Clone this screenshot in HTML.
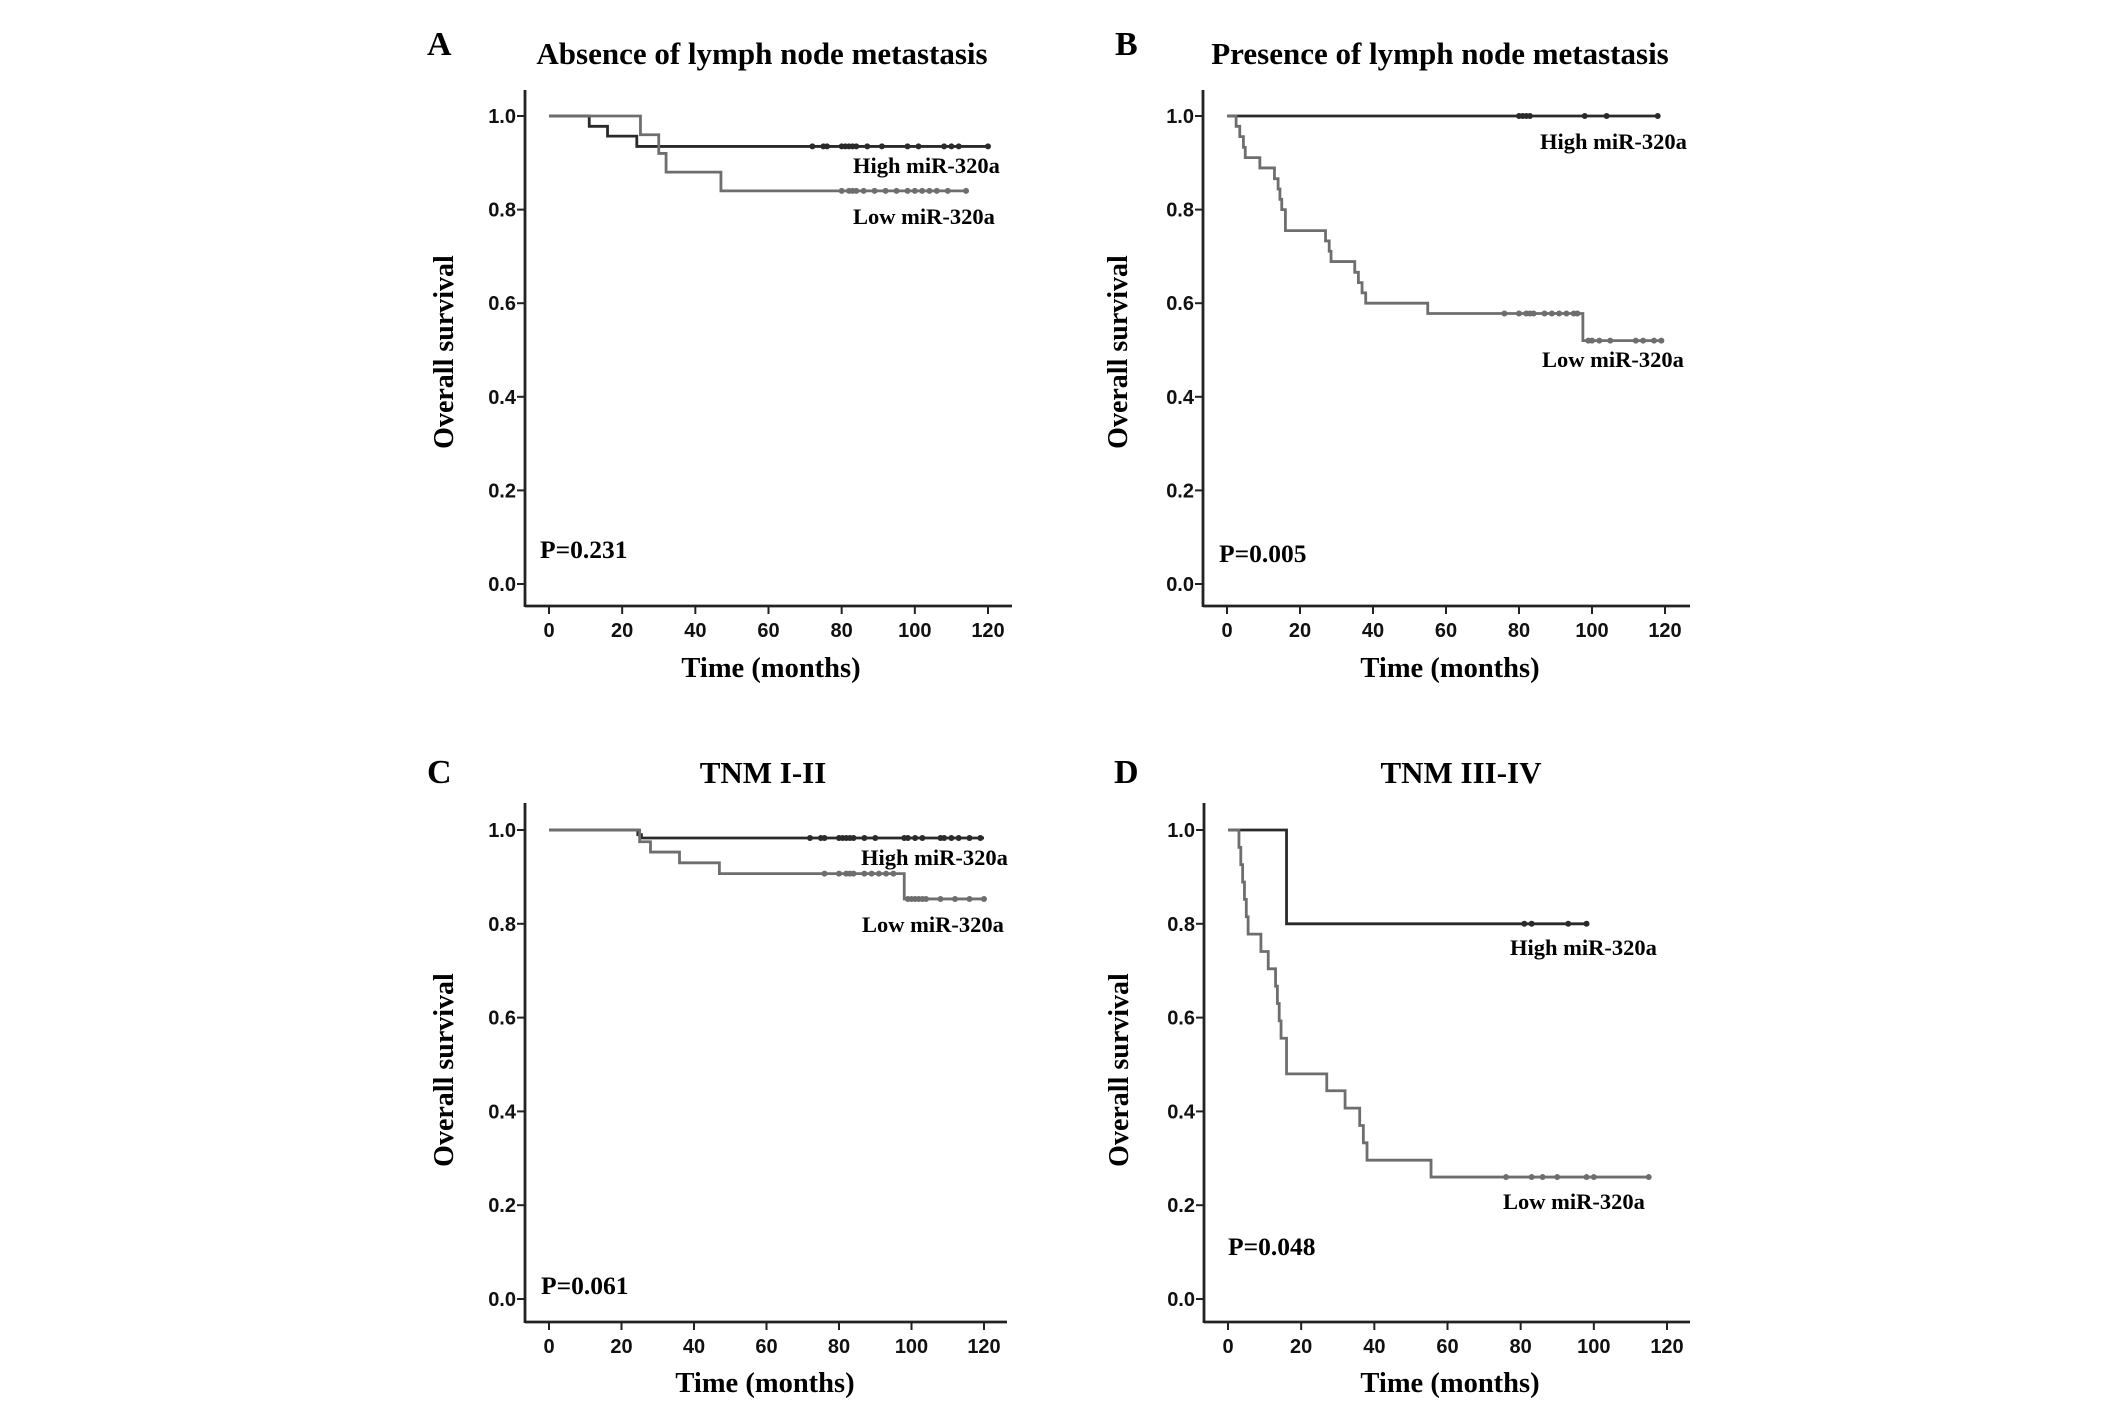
<!DOCTYPE html>
<html><head><meta charset="utf-8"><style>
html,body{margin:0;padding:0;background:#fff;}
svg{display:block;}
.serif{font-family:"Liberation Serif",serif;font-weight:bold;fill:#000;}
.sans{font-family:"Liberation Sans",sans-serif;font-weight:bold;fill:#111;}
</style></head><body>
<svg id="fig" width="2126" height="1405" viewBox="0 0 2126 1405" xmlns="http://www.w3.org/2000/svg"></svg>
<script>
// ---- data (time in months, survival proportion) ----
const xTicks = [0,20,40,60,80,100,120];
const yTicks = [0.0,0.2,0.4,0.6,0.8,1.0];
const yTickLabels = ["0.0","0.2","0.4","0.6","0.8","1.0"];
const panelLetters = ["A","B","C","D"];
const panelTitles = ["Absence of lymph node metastasis","Presence of lymph node metastasis","TNM I-II","TNM III-IV"];
const pValues = ["P=0.231","P=0.005","P=0.061","P=0.048"];

const aHighTimes = [11,16,24];
const aHighSurv  = [0.978,0.957,0.935];
const aHighCens  = [72,75,76,80,81,82,83,84,87,91,98,101,108,110,112,120];
const aHighEnd = 120;
const aLowTimes = [25,30,32,47];
const aLowSurv  = [0.96,0.92,0.88,0.84];
const aLowCens  = [80,82,83,84,86,89,92,95,98,100,102,104,106,109,114];
const aLowEnd = 114;

const bHighTimes = [];
const bHighSurv  = [];
const bHighCens  = [80,81,82,83,98,104,118];
const bHighEnd = 118;
const bLowTimes = [2.5,3.5,4.5,5,9,13,14,14.5,15,16,27,28,28.5,35,36,37,38,55,97.5];
const bLowSurv  = [0.978,0.956,0.933,0.911,0.889,0.866,0.844,0.822,0.80,0.755,0.733,0.711,0.689,0.666,0.644,0.622,0.60,0.578,0.52];
const bLowCens  = [76,80,82,83,84,87,89,91,93,95,96,99,100,102,105,112,114,117,119];
const bLowEnd = 119;

const cHighTimes = [24.5,25.5];
const cHighSurv  = [0.99,0.983];
const cHighCens  = [72,75,76,80,81,82,83,84,87,90,98,99,101,103,108,109,111,113,116,119];
const cHighEnd = 120;
const cLowTimes = [25,28,36,47,98];
const cLowSurv  = [0.975,0.953,0.93,0.907,0.853];
const cLowCens  = [76,80,82,83,84,87,89,91,93,95,99,100,101,102,103,104,108,112,116,120];
const cLowEnd = 120;

const dHighTimes = [16];
const dHighSurv  = [0.80];
const dHighCens  = [81,83,93,98];
const dHighEnd = 98;
const dLowTimes = [3,3.5,4,4.5,5,5.5,9,11,13,13.5,14,14.5,16,27,32,36,37,38,55.5];
const dLowSurv  = [0.963,0.926,0.889,0.852,0.815,0.778,0.741,0.704,0.667,0.63,0.593,0.556,0.48,0.444,0.407,0.37,0.333,0.296,0.26];
const dLowCens  = [76,83,86,90,98,100,115];
const dLowEnd = 115;

const series = [
 [[aHighTimes,aHighSurv,aHighCens,aHighEnd],[aLowTimes,aLowSurv,aLowCens,aLowEnd]],
 [[bHighTimes,bHighSurv,bHighCens,bHighEnd],[bLowTimes,bLowSurv,bLowCens,bLowEnd]],
 [[cHighTimes,cHighSurv,cHighCens,cHighEnd],[cLowTimes,cLowSurv,cLowCens,cLowEnd]],
 [[dHighTimes,dHighSurv,dHighCens,dHighEnd],[dLowTimes,dLowSurv,dLowCens,dLowEnd]]
];

// ---- layout ----
const layout = [
 {ax:525,x0:549,x1:988,top:90,y1:116,y0:584,base:606,right:1012,tx:762,ty:64,lx:427,ly:55,
  hl:[853,173],ll:[853,224],p:[540,558],yt:[443,352],xt:[771,677],xl:637},
 {ax:1203,x0:1227,x1:1665,top:90,y1:116,y0:584,base:606,right:1690,tx:1440,ty:64,lx:1115,ly:55,
  hl:[1540,149],ll:[1542,367],p:[1219,562],yt:[1117,352],xt:[1450,677],xl:637},
 {ax:525,x0:549,x1:984,top:803,y1:830,y0:1299,base:1322,right:1007,tx:763,ty:783,lx:427,ly:783,
  hl:[861,865],ll:[862,932],p:[541,1294],yt:[443,1070],xt:[765,1392],xl:1353},
 {ax:1204,x0:1228,x1:1667,top:803,y1:830,y0:1299,base:1322,right:1690,tx:1461,ty:783,lx:1114,ly:783,
  hl:[1510,955],ll:[1503,1209],p:[1228,1255],yt:[1118,1070],xt:[1450,1392],xl:1353}
];

const NS="http://www.w3.org/2000/svg";
const svg=document.getElementById('fig');
function mk(tag,attrs,parent,text){
  const e=document.createElementNS(NS,tag);
  for(const k in attrs) e.setAttribute(k,attrs[k]);
  if(text!==undefined) e.textContent=text;
  (parent||svg).appendChild(e); return e;
}

layout.forEach((L,i)=>{
  const g=mk('g',{});
  
  
  const sx=t=>L.x0+(L.x1-L.x0)*t/120;
  const sy=v=>L.y0+(L.y1-L.y0)*v;

  const letter=mk('text',{x:L.lx,y:L.ly,class:'serif','font-size':34},g,panelLetters[i]);
  
  
  const title=mk('text',{x:L.tx,y:L.ty,class:'serif','font-size':31,'text-anchor':'middle'},g,panelTitles[i]);
  
  

  const yAxis=mk('line',{x1:L.ax,y1:L.top,x2:L.ax,y2:L.base+1,stroke:'#222','stroke-width':2.8},g);
  
  
  const xAxis=mk('line',{x1:L.ax,y1:L.base,x2:L.right,y2:L.base,stroke:'#222','stroke-width':2.8},g);
  
  

  yTicks.forEach((v,k)=>{
    mk('line',{x1:L.ax-8,y1:sy(v),x2:L.ax,y2:sy(v),stroke:'#222','stroke-width':2},g);
    const t=mk('text',{x:L.ax-9,y:sy(v)+7,class:'sans','font-size':20,'text-anchor':'end'},g,yTickLabels[k]);
    
    
  });
  xTicks.forEach(v=>{
    mk('line',{x1:sx(v),y1:L.base,x2:sx(v),y2:L.base+8,stroke:'#222','stroke-width':2},g);
    const t=mk('text',{x:sx(v),y:L.xl,class:'sans','font-size':20,'text-anchor':'middle'},g,String(v));
    
    
  });

  const yt=mk('text',{x:0,y:0,class:'serif','font-size':28,'text-anchor':'middle',transform:`translate(${L.yt[0]+10},${L.yt[1]}) rotate(-90)`},g,'Overall survival');
  
  
  const xt=mk('text',{x:L.xt[0],y:L.xt[1],class:'serif','font-size':28.5,'text-anchor':'middle'},g,'Time (months)');
  
  

  const colors=['#2a2a2a','#6e6e6e'];
  const names=['high-mir-320a-curve','low-mir-320a-curve'];
  series[i].forEach((s,j)=>{
    const [times,surv,cens,end]=s;
    let d=`M${sx(0)},${sy(1)}`;
    times.forEach((t,k)=>{ d+=` H${sx(t)} V${sy(surv[k])}`; });
    d+=` H${sx(end)}`;
    const p=mk('path',{d:d,fill:'none',stroke:colors[j],'stroke-width':2.8},g);
    
    
    cens.forEach(c=>{
      let v=1; times.forEach((t,k)=>{ if(t<=c) v=surv[k]; });
      const m=mk('circle',{cx:sx(c),cy:sy(v),r:3,fill:colors[j]},g);
      
      
    });
  });

  const hl=mk('text',{x:L.hl[0],y:L.hl[1],class:'serif','font-size':22.5},g,'High miR-320a');
  
  
  const ll=mk('text',{x:L.ll[0],y:L.ll[1],class:'serif','font-size':22.5},g,'Low miR-320a');
  
  
  const pv=mk('text',{x:L.p[0],y:L.p[1],class:'serif','font-size':25.5},g,pValues[i]);
  
  
});
</script>
</body></html>
